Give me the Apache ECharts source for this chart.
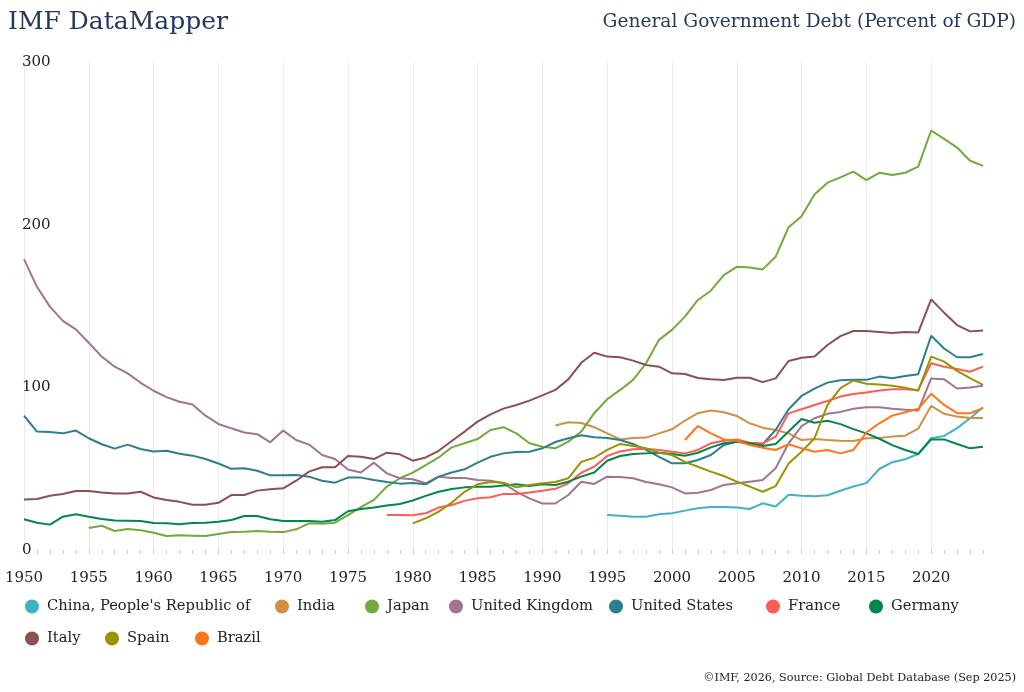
<!DOCTYPE html>
<html>
<head>
<meta charset="utf-8">
<script src="https://cdn.jsdelivr.net/npm/echarts@6/dist/echarts.min.js"></script>
<style>
html,body{margin:0;padding:0;background:#fff;}
#c{width:1024px;height:692px;}
</style>
</head>
<body>
<div id="c"></div>
<script>
const years = [];
for (let y = 1950; y <= 2024; y++) years.push(String(y));

const yTicks = [0, 100, 200, 300];

// start year + values
const chinaStart = 1995;
const china = [21.5,21.1,20.5,20.5,22,22.6,24.2,25.7,26.5,26.4,26.1,25.2,28.7,26.7,33.9,33.3,33.1,33.7,36.4,39,41.1,49.8,54,55.8,59,68.7,70.1,74.9,81,87.8];

const indiaStart = 1991;
const india = [76.5,78.5,78.1,75.5,71.7,68,68.9,69.1,71.7,74.2,79.6,84.1,85.7,84.7,82.4,77.9,75.2,73.8,71.7,67.6,68.2,67.6,67.2,67,68.7,68.9,69.7,70.3,74.6,88.6,83.7,82,81.2,81.2];

const japanStart = 1955;
const japan = [13.5,14.9,11.7,12.9,12.1,10.6,8.6,9,8.8,8.6,9.8,11,11.2,11.7,11.2,11,12.7,16.4,16.2,16.8,21.5,26.3,30.8,39,44.1,47.6,52.2,56.9,63.1,65.6,68.2,73.8,75.5,71.7,65.6,63.5,62.5,66.6,72.8,84.1,92.7,98.4,104.6,114.8,129.2,135.3,143.5,153.7,159.4,169,174.1,173.7,172.5,180.3,198.4,205.2,218.6,225.8,229.1,232.6,227.4,231.9,230.5,231.9,235.7,257.9,252.7,247.4,239.3,236.1];

const ukStart = 1950;
const uk = [178.8,161.8,149.6,140.9,135.6,127.4,118.9,112.7,108.6,102.8,97.9,94,91.1,89.4,82.6,77.5,74.8,72.2,71.2,66.2,73.4,67.6,64.8,58.4,55.9,49.5,47.6,53.7,47.1,44.1,43.5,41,45.1,44.3,44.3,43,42.6,41,35.8,31.7,28.6,28.6,33.8,42,40.6,45.1,44.9,44.1,41.8,40.4,38.5,34.8,35.2,36.9,40,41,42,43,50.3,65.6,76.2,81,83.7,84.9,86.8,87.8,87.8,86.8,86.2,85.7,105.5,104.9,99.3,99.9,101];

const usStart = 1950;
const us = [82.6,72.8,72.6,71.7,73.4,68.7,65,62.3,64.8,62.1,60.6,61,59.2,58,55.9,53.2,49.9,50.2,48.7,45.9,45.9,46.1,45.1,42.6,41.4,44.5,44.5,43,41.8,40.8,41.2,40.4,45.1,47.6,49.6,53.7,57.3,59.4,60.2,60.4,62.5,66.4,68.7,70.5,69.3,68.9,67.6,65.2,61.5,57.3,53.3,53.3,55.3,58.4,64.5,66.6,65.6,65,73.8,86.5,94.7,99.2,102.9,104.4,104.6,104.6,106.6,105.6,107,108.1,131.7,123.9,118.5,118.5,120.5];

const franceStart = 1978;
const france = [21.5,21.5,21.3,22.6,26.1,27.7,30.2,31.8,32.4,34.5,34.5,35.3,36.4,37.6,41,47.5,51.2,57.8,60.6,61.9,62.3,61.5,60.4,59.4,61.5,65.6,67.2,68,66,65.6,69.7,84,86.5,89.1,91.6,94.3,95.9,96.8,98,98.8,98.8,98.4,114.8,112.7,111.3,109.6,112.7];

const germanyStart = 1950;
const germany = [18.9,16.8,15.6,20.5,22,20.5,19.1,18.2,18,17.8,16.6,16.4,15.8,16.6,16.8,17.4,18.4,20.9,20.9,18.9,17.8,17.8,17.8,17.4,18.4,23.8,25.2,26.1,27.3,28.3,30.4,33.3,35.8,37.5,38.5,38.9,38.9,39.7,40.4,39.3,40.4,40,42,45.1,47.6,54.9,57.8,59,59.4,59.8,59,58,59.8,63.1,65.6,66.6,65.6,63.9,65.2,72.8,80.5,78.2,79.5,77.4,74.3,71.7,68.4,64.5,61.5,59,68,68,65.2,62.5,63.5];

const italyStart = 1950;
const italy = [31.1,31.3,33.3,34.4,36.3,36.3,35.4,34.8,34.8,35.8,32.3,30.7,29.6,27.8,27.8,29,33.8,33.8,36.5,37.3,37.9,42.6,48.2,50.9,50.9,57.8,57.3,55.9,59.8,58.8,54.9,56.9,61,67,72.8,78.9,83.4,86.9,89.1,91.8,95.1,98.4,104.9,115.1,121.3,118.9,118.5,116.4,113.7,112.7,108.6,108.2,105.7,104.9,104.5,105.9,105.9,103.2,105.5,116.2,118.2,118.9,126,131.5,134.6,134.6,134,133.4,134,133.7,154.1,145.9,138.3,134.4,135];

const spainStart = 1980;
const spain = [16.4,19.5,23.6,29.1,35.8,40.4,41.8,41.4,38.5,40,41,41.8,44.1,54.2,56.7,61.5,65.2,63.9,62.5,59.8,58.4,54.2,51.2,48.2,45.5,42,39,35.8,39.3,53.2,60.4,68.7,89.2,99.5,104.2,102.2,101.8,101,99.7,97.9,118.9,115.8,110.1,105.6,101.5];

const brazilStart = 2001;
const brazil = [67.6,76.2,71.7,68,67.2,64.5,62.9,61.5,65,62.5,60.4,61.5,59.4,61.5,72.2,77.9,82.6,84.7,86.8,96,89.2,84.1,84.1,87.2];

const names = ["China, People's Republic of","India","Japan","United Kingdom","United States","France","Germany","Italy","Spain","Brazil"];
const colors = ["#41b2c4","#d18f43","#72ab3b","#a17590","#2b7f90","#ff5b57","#00874d","#8b5052","#9a9402","#ff7518"];
const starts = [chinaStart,indiaStart,japanStart,ukStart,usStart,franceStart,germanyStart,italyStart,spainStart,brazilStart];
const values = [china,india,japan,uk,us,france,germany,italy,spain,brazil];

function pad(start, arr){
  const out = [];
  for (let i = 0; i < start - 1950; i++) out.push(null);
  return out.concat(arr);
}

const FONT = "DejaVu Serif";
// legend item placement (marker centre x, row top y)
const legendX = [32, 282, 372, 456, 616, 773, 876, 32, 112, 202];
const legendY = [594, 594, 594, 594, 594, 594, 594, 626, 626, 626];

const legends = names.map((n,i)=>({
  left: legendX[i] - 7 - 5, top: legendY[i],
  icon:'circle', itemWidth:14, itemHeight:14,
  textStyle:{fontFamily:FONT, fontSize:14.7, color:'#222', padding:[0,0,0,3]},
  itemStyle:{borderWidth:0},
  data:[n]
}));

const chart = echarts.init(document.getElementById('c'), null, {renderer:'canvas'});
chart.setOption({
  animation:false,
  backgroundColor:'#fff',
  color: colors,
  title:[
    {text:'IMF DataMapper', left:3, top:5, textStyle:{fontFamily:FONT, fontSize:25, fontWeight:'normal', color:'#24395f'}},
    {text:'General Government Debt (Percent of GDP)', right:3, top:8, textStyle:{fontFamily:FONT, fontSize:18.6, fontWeight:'normal', color:'#24395f'}},
    {text:'©IMF, 2026, Source: Global Debt Database (Sep 2025)', right:3, top:668, textStyle:{fontFamily:FONT, fontSize:11.2, fontWeight:'normal', color:'#222'}}
  ],
  legend: legends,
  grid:{left:24, right:41, top:62, bottom:142, containLabel:false},
  xAxis:{
    type:'category', data: years, boundaryGap:false, offset:15,
    axisLine:{show:false},
    axisTick:{show:true, interval:0, length:4, lineStyle:{color:'#ccc'}},
    axisLabel:{interval:function(i){return i%5===0;}, fontFamily:FONT, fontSize:15, color:'#222', margin:6},
    splitLine:{show:true, interval:function(i){return i%5===0;}, lineStyle:{color:'#ebebeb', width:1}}
  },
  yAxis:{
    type:'value', min:yTicks[0], max:yTicks[yTicks.length-1], interval:100,
    axisLine:{show:false}, axisTick:{show:false}, splitLine:{show:false},
    axisLabel:{inside:true, margin:-2, fontFamily:FONT, fontSize:15, color:'#222', padding:[0,0,8,0]}
  },
  series: names.map((n,i)=>({
    name:n, type:'line', data: pad(starts[i], values[i]),
    showSymbol:false, symbol:'circle', connectNulls:false,
    lineStyle:{width:2, color:colors[i]}, itemStyle:{color:colors[i]},
    emphasis:{disabled:true}
  }))
});
</script>
</body>
</html>
